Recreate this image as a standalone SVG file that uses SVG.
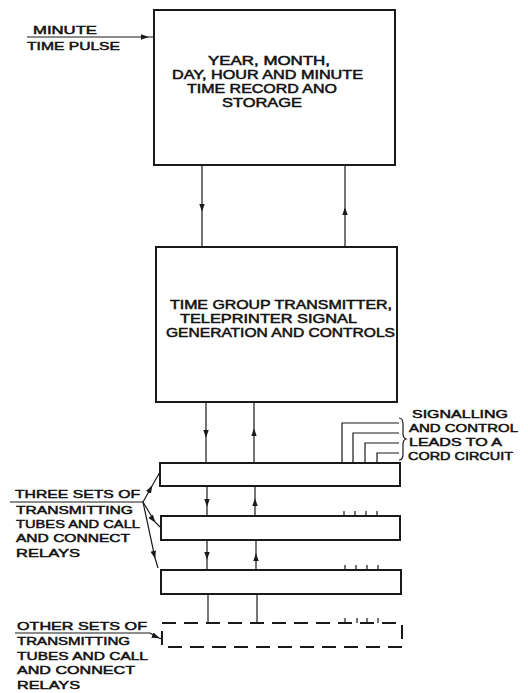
<svg xmlns="http://www.w3.org/2000/svg" width="528" height="693" viewBox="0 0 528 693">
<style>
  .box{fill:none;stroke:#1a1a1a;stroke-width:2}
  .dash{fill:none;stroke:#1a1a1a;stroke-width:2;stroke-dasharray:14 8}
  .ln{fill:none;stroke:#1a1a1a;stroke-width:1.2}
  .t{font-family:"Liberation Sans",Arial,sans-serif;font-size:12px;fill:#111;stroke:#111;stroke-width:0.5}
  .s{font-family:"Liberation Sans",Arial,sans-serif;font-size:11.5px;fill:#111;stroke:#111;stroke-width:0.5}
</style>
<defs>
  <marker id="ah" viewBox="0 0 10 10" refX="9" refY="5" markerWidth="8" markerHeight="8" markerUnits="userSpaceOnUse" orient="auto">
    <path d="M0,1.5 L10,5 L0,8.5 Z" fill="#1a1a1a"/>
  </marker>
</defs>
<rect width="528" height="693" fill="#fff"/>

<g id="connectors">
  <path class="ln" d="M27,37 L148,37 L154,37" marker-mid="url(#ah)"/>
  <path class="ln" d="M202,165 L202,211 L202,247" marker-mid="url(#ah)"/>
  <path class="ln" d="M345,247 L345,208 L345,165" marker-mid="url(#ah)"/>
  <path class="ln" d="M206,402 L206,437 L206,463" marker-mid="url(#ah)"/>
  <path class="ln" d="M254,463 L254,429 L254,402" marker-mid="url(#ah)"/>
  <path class="ln" d="M207,486 L207,506 L207,516" marker-mid="url(#ah)"/>
  <path class="ln" d="M255,516 L255,499 L255,486" marker-mid="url(#ah)"/>
  <path class="ln" d="M207,540 L207,559 L207,570" marker-mid="url(#ah)"/>
  <path class="ln" d="M256,570 L256,554 L256,540" marker-mid="url(#ah)"/>
  <path class="ln" d="M208,594 L208,623"/>
  <path class="ln" d="M257,594 L257,623"/>
  <path class="ln" d="M342,463 L342,423 L399,423"/>
  <path class="ln" d="M353,463 L353,433 L399,433"/>
  <path class="ln" d="M365,463 L365,443 L399,443"/>
  <path class="ln" d="M377,463 L377,453 L399,453"/>
  <path class="ln" d="M399,418 Q403,418 403,424 L403,434 Q403,438 406,439 Q403,440 403,444 L403,454 Q403,460 399,460"/>
  <path class="ln" d="M344,516 v-5 M355,516 v-5 M366,516 v-5 M377,516 v-5"/>
  <path class="ln" d="M345,570 v-5 M356,570 v-5 M367,570 v-5 M378,570 v-5"/>
  <path class="ln" d="M345,623 v-5 M357,623 v-5 M367,623 v-5 M378,623 v-5"/>
  <path class="ln" d="M10,502 L143,502"/>
  <path class="ln" d="M143,502 L152,486 L160,472" marker-mid="url(#ah)"/>
  <path class="ln" d="M143,502 L155,522 L160,527" marker-mid="url(#ah)"/>
  <path class="ln" d="M143,502 L155,558 L158,568" marker-mid="url(#ah)"/>
  <path class="ln" d="M15,633 L150,633"/>
  <path class="ln" d="M150,633 L159,638 L162,639" marker-mid="url(#ah)"/>
</g>

<g id="n-minute">
  <text class="s" x="33" y="34" textLength="64" lengthAdjust="spacingAndGlyphs">MINUTE</text>
  <text class="s" x="27" y="50" textLength="93" lengthAdjust="spacingAndGlyphs">TIME PULSE</text>
</g>

<g id="n-storage">
  <rect class="box" x="154" y="10" width="241" height="155"/>
  <text class="t" x="208" y="65" textLength="122" lengthAdjust="spacingAndGlyphs">YEAR, MONTH,</text>
  <text class="t" x="172" y="79" textLength="191" lengthAdjust="spacingAndGlyphs">DAY, HOUR AND MINUTE</text>
  <text class="t" x="187" y="93" textLength="150" lengthAdjust="spacingAndGlyphs">TIME RECORD ANO</text>
  <text class="t" x="222" y="107" textLength="80" lengthAdjust="spacingAndGlyphs">STORAGE</text>
</g>

<g id="n-transmitter">
  <rect class="box" x="156" y="247" width="241" height="155"/>
  <text class="t" x="170" y="309" textLength="222" lengthAdjust="spacingAndGlyphs">TIME GROUP TRANSMITTER,</text>
  <text class="t" x="180" y="323" textLength="177" lengthAdjust="spacingAndGlyphs">TELEPRINTER SIGNAL</text>
  <text class="t" x="166" y="337" textLength="229" lengthAdjust="spacingAndGlyphs">GENERATION AND CONTROLS</text>
</g>

<g id="n-set1"><rect class="box" x="160" y="463" width="240" height="23"/></g>
<g id="n-set2"><rect class="box" x="161" y="516" width="239" height="24"/></g>
<g id="n-set3"><rect class="box" x="161" y="570" width="240" height="24"/></g>
<g id="n-other"><rect class="dash" x="162" y="623" width="240" height="24"/></g>

<g id="n-signalling">
  <text class="s" x="412" y="418" textLength="96" lengthAdjust="spacingAndGlyphs">SIGNALLING</text>
  <text class="s" x="409" y="432" textLength="109" lengthAdjust="spacingAndGlyphs">AND CONTROL</text>
  <text class="s" x="409" y="446" textLength="93" lengthAdjust="spacingAndGlyphs">LEADS TO A</text>
  <text class="s" x="408" y="460" textLength="105" lengthAdjust="spacingAndGlyphs">CORD CIRCUIT</text>
</g>

<g id="n-three">
  <text class="s" x="15" y="498" textLength="125" lengthAdjust="spacingAndGlyphs">THREE SETS OF</text>
  <text class="s" x="16" y="514" textLength="117" lengthAdjust="spacingAndGlyphs">TRANSMITTING</text>
  <text class="s" x="16" y="528" textLength="124" lengthAdjust="spacingAndGlyphs">TUBES AND CALL</text>
  <text class="s" x="16" y="542" textLength="114" lengthAdjust="spacingAndGlyphs">AND CONNECT</text>
  <text class="s" x="16" y="557" textLength="64" lengthAdjust="spacingAndGlyphs">RELAYS</text>
</g>

<g id="n-othersets">
  <text class="s" x="17" y="630" textLength="130" lengthAdjust="spacingAndGlyphs">OTHER SETS OF</text>
  <text class="s" x="17" y="645" textLength="113" lengthAdjust="spacingAndGlyphs">TRANSMITTING</text>
  <text class="s" x="17" y="660" textLength="131" lengthAdjust="spacingAndGlyphs">TUBES AND CALL</text>
  <text class="s" x="17" y="674" textLength="118" lengthAdjust="spacingAndGlyphs">AND CONNECT</text>
  <text class="s" x="17" y="689" textLength="63" lengthAdjust="spacingAndGlyphs">RELAYS</text>
</g>
</svg>
